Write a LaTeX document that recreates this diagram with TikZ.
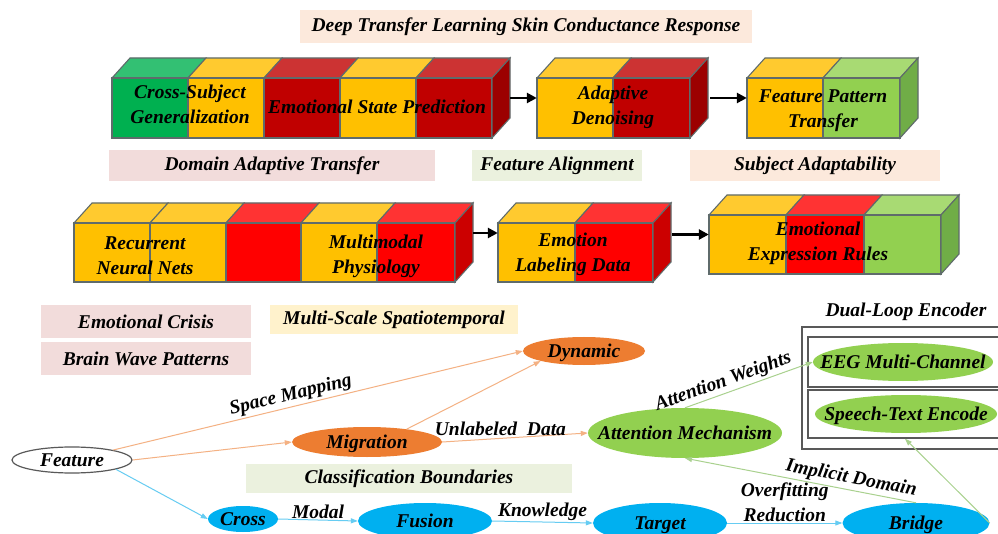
\documentclass[tikz,border=0pt]{standalone}
\usepackage{fontspec}
\setmainfont{Liberation Serif}
\usetikzlibrary{arrows.meta,shapes.geometric}
\definecolor{cgreen}{HTML}{00B050}\definecolor{cgreenT}{HTML}{33C073}
\definecolor{cyel}{HTML}{FFC000}\definecolor{cyelT}{HTML}{FFCA2F}
\definecolor{cdred}{HTML}{C00000}\definecolor{cdredT}{HTML}{CC3333}\definecolor{cdredS}{HTML}{9C0000}
\definecolor{cred}{HTML}{FF0000}\definecolor{credT}{HTML}{FF3333}\definecolor{credS}{HTML}{CC0000}
\definecolor{clg}{HTML}{92D050}\definecolor{clgT}{HTML}{A8DA73}\definecolor{clgS}{HTML}{70AD47}
\definecolor{cedge}{HTML}{5F6B6B}
\definecolor{cpink}{HTML}{F2DCDB}\definecolor{cpgreen}{HTML}{EBF1DE}
\definecolor{cpeach}{HTML}{FCE9DC}\definecolor{cpyel}{HTML}{FFF2CC}
\definecolor{corange}{HTML}{ED7D31}\definecolor{cgreenE}{HTML}{92D050}\definecolor{cblue}{HTML}{00B0F0}
\definecolor{lorange}{HTML}{F4B183}\definecolor{lgreen}{HTML}{A9D18E}\definecolor{lblue}{HTML}{66CCF2}
\definecolor{cgray}{HTML}{595959}
\newcommand\zw[1]{\makebox[0pt]{#1}}
\newcommand\cubeseg[6]{%
  \filldraw[cube edge, fill=#6] (#1,#3) -- (#1+18,#3-20) -- (#2+18,#3-20) -- (#2,#3) -- cycle;
  \filldraw[cube edge, fill=#5] (#1,#3) rectangle (#2,#4);}
\newcommand\cubeside[4]{%
  \filldraw[cube edge, fill=#4] (#1,#2) -- (#1+18,#2-20) -- (#1+18,#3-20) -- (#1,#3) -- cycle;}
\tikzset{
  lbl/.style={font=\fontsize{19.5}{25}\selectfont\bfseries\itshape, text=black, align=center},
  tagbox/.style={lbl, inner sep=0},
  ell/.style={ellipse, lbl, inner sep=0, text height=13pt, text depth=0pt},
  cube edge/.style={draw=cedge, line width=1.1pt},
  blk/.style={inner sep=0},
  barr/.style={draw=black, line width=2.8pt, -{Triangle[length=10pt,width=10pt]}},
  oarr/.style={draw=lorange, line width=1pt, -{Triangle[length=7pt,width=5pt]}},
  garr/.style={draw=lgreen, line width=1pt, -{Triangle[length=7pt,width=5pt]}},
  barrow/.style={draw=lblue, line width=1pt, -{Triangle[length=7pt,width=5pt]}},
  dbox/.style={draw=cgray, line width=1.5pt, inner sep=0},
}
\begin{document}
\begin{tikzpicture}[x=1pt,y=-1pt]
\useasboundingbox (0,0) rectangle (998,534);
\clip (0,0) rectangle (998,534);
\fill[white] (0,0) rectangle (998,534);

% title and tag boxes
\node[tagbox, fill=cpeach, minimum width=452, minimum height=33] (title) at (526,26.5) {Deep Transfer Learning Skin Conductance Response};
\node[tagbox, fill=cpink, minimum width=326, minimum height=31] (tdat) at (272,165.5) {Domain Adaptive Transfer};
\node[tagbox, fill=cpgreen, minimum width=170, minimum height=31] (tfa) at (557,165.5) {Feature Alignment};
\node[tagbox, fill=cpeach, minimum width=250, minimum height=31] (tsa) at (815,165.5) {Subject Adaptability};
\node[tagbox, fill=cpink, minimum width=210, minimum height=33] (tec) at (146,321.5) {Emotional Crisis};
\node[tagbox, fill=cpink, minimum width=210, minimum height=33] (tbw) at (146,358.5) {Brain Wave Patterns};
\node[tagbox, fill=cpyel, minimum width=248, minimum height=29] (tms) at (394,319.5) {Multi-Scale Spatiotemporal};
\node[tagbox, fill=cpgreen, minimum width=326, minimum height=29] (tcb) at (409,478.5) {Classification Boundaries};

% top row cubes
\cubeseg{112}{188}{78}{138}{cgreen}{cgreenT}
\cubeseg{188}{264}{78}{138}{cyel}{cyelT}
\cubeseg{264}{340}{78}{138}{cdred}{cdredT}
\cubeseg{340}{416}{78}{138}{cyel}{cyelT}
\cubeseg{416}{492}{78}{138}{cdred}{cdredT}
\cubeside{492}{78}{138}{cdredS}
\node[blk, minimum width=398, minimum height=80] (blk1) at (311,98) {};
\node[lbl] (t1) at (190,104) {Cross-Subject\\Generalization};
\node[lbl] (t2) at (377,107) {Emotional State Prediction};

\cubeseg{537}{613}{78}{138}{cyel}{cyelT}
\cubeseg{613}{690}{78}{138}{cdred}{cdredT}
\cubeside{690}{78}{138}{cdredS}
\node[blk, minimum width=173, minimum height=80] (blk2) at (623.5,98) {};
\node[lbl] (t3) at (613,107) {Adaptive\\Denoising};

\cubeseg{747}{823}{78}{138}{cyel}{cyelT}
\cubeseg{823}{900}{78}{138}{clg}{clgT}
\cubeside{900}{78}{138}{clgS}
\node[blk, minimum width=173, minimum height=80] (blk3) at (833.5,98) {};
\node[lbl] (t4) at (823,111) {Feature Pattern\\Transfer};

\draw[barr] (blk1.east) -- (blk2.west);
\draw[barr] (blk2.east) -- (blk3.west);

% middle row cubes
\cubeseg{74}{150}{223}{282}{cyel}{cyelT}
\cubeseg{150}{226}{223}{282}{cyel}{cyelT}
\cubeseg{226}{301}{223}{282}{cred}{credT}
\cubeseg{301}{377}{223}{282}{cyel}{cyelT}
\cubeseg{377}{455}{223}{282}{cred}{credT}
\cubeside{455}{223}{282}{credS}
\node[blk, minimum width=399, minimum height=78] (blk4) at (273.5,243) {};
\node[lbl] (t5) at (145,256) {Recurrent\\Neural Nets};
\node[lbl] (t6) at (376,256) {Multimodal\\Physiology};

\cubeseg{498}{575}{223}{282}{cyel}{cyelT}
\cubeseg{575}{653}{223}{282}{cred}{credT}
\cubeside{653}{223}{282}{credS}
\node[blk, minimum width=174, minimum height=78] (blk5) at (585,243) {};
\node[lbl] (t7) at (573,254) {Emotion\\Labeling Data};

\cubeseg{709}{786}{215}{274}{cyel}{cyelT}
\cubeseg{786}{864}{215}{274}{cred}{credT}
\cubeseg{864}{941}{215}{274}{clg}{clgT}
\cubeside{941}{215}{274}{clgS}
\node[blk, minimum width=251, minimum height=79] (blk6) at (834.5,234.5) {};
\node[lbl] (t8) at (818,243) {Emotional\\Expression Rules};

\draw[barr] (blk4.east |- 0,233) -- (blk5.west |- 0,233);
\draw[barr] (blk5.east |- blk6.west) -- (blk6.west);

% dual loop encoder
\node[lbl] (dlt) at (906,312) {Dual-Loop Encoder};
\node[dbox, minimum width=200, minimum height=122] (dlo) at (902,388) {};
\node[dbox, minimum width=194, minimum height=50] (dl1) at (905,362) {};
\node[dbox, minimum width=194, minimum height=48] (dl2) at (905,414) {};

% ellipses
\node[ell, draw=cgray, fill=white, line width=1.2pt, minimum width=120, minimum height=26] (feat) at (72,460) {\zw{Feature}};
\node[ell, fill=corange, minimum width=150, minimum height=30] (mig) at (367,442) {\zw{Migration}};
\node[ell, fill=corange, minimum width=122, minimum height=28] (dyn) at (584,351) {\zw{Dynamic}};
\node[ell, fill=cgreenE, minimum width=194, minimum height=50] (att) at (685,433) {\zw{Attention Mechanism}};
\node[ell, fill=cgreenE, minimum width=180, minimum height=38] (eeg) at (903,362) {\zw{EEG Multi-Channel}};
\node[ell, fill=cgreenE, minimum width=182, minimum height=38] (ste) at (906,414) {\zw{Speech-Text Encode}};
\node[ell, fill=cblue, minimum width=70, minimum height=26] (cross) at (243,519) {\zw{Cross}};
\node[ell, fill=cblue, minimum width=134, minimum height=36] (fus) at (425,521) {\zw{Fusion}};
\node[ell, fill=cblue, minimum width=134, minimum height=40] (tgt) at (660,523) {\zw{Target}};
\node[ell, fill=cblue, minimum width=147, minimum height=40] (brg) at (916,523) {\zw{Bridge}};

% connectors
\draw[oarr] (feat) -- node[lbl, sloped, above, pos=0.44, inner sep=2pt] {Space Mapping} (dyn.west);
\draw[oarr] (feat.east) -- (mig.west);
\draw[oarr] (mig.18) -- (dyn.193);
\draw[oarr] (mig.east) -- node[lbl, above, pos=0.4, inner sep=2pt] {Unlabeled\ \ Data} (att.west);
\draw[barrow] (feat.-12) -- (cross.west);
\draw[barrow] (cross.east) -- node[lbl, above, inner sep=1pt] {Modal} (fus.west);
\draw[barrow] (fus.east) -- node[lbl, above, inner sep=1pt] {Knowledge} (tgt.west);
\draw[barrow] (tgt.east) -- node[lbl, above, inner sep=1pt] {Overfitting\\Reduction} (brg.west);
\draw[garr] (att.north) -- node[lbl, sloped, above, pos=0.33, inner sep=2pt] {Attention Weights} (eeg.west);
\draw[garr] (brg.north) -- node[lbl, sloped, above, pos=0.29, inner sep=2pt] {Implicit Domain} (att.south);
\draw[garr] (brg.east) -- (dl2.south);
\end{tikzpicture}
\end{document}
